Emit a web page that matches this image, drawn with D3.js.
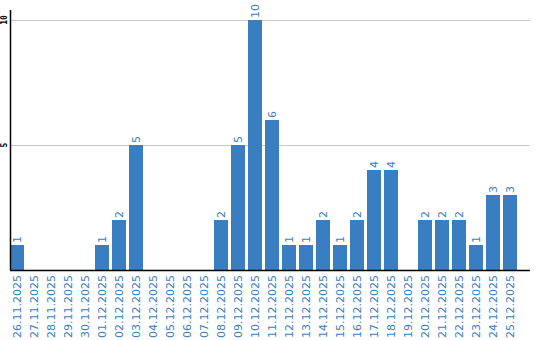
<!DOCTYPE html>
<html>
<head>
<meta charset="utf-8">
<script src="https://cdn.jsdelivr.net/npm/d3@7"></script>
<style>
  body { margin: 0; background: #fff; }
  svg { display: block; }
</style>
</head>
<body>
<script>
var dates = ["26.11.2025","27.11.2025","28.11.2025","29.11.2025","30.11.2025",
  "01.12.2025","02.12.2025","03.12.2025","04.12.2025","05.12.2025","06.12.2025",
  "07.12.2025","08.12.2025","09.12.2025","10.12.2025","11.12.2025","12.12.2025",
  "13.12.2025","14.12.2025","15.12.2025","16.12.2025","17.12.2025","18.12.2025",
  "19.12.2025","20.12.2025","21.12.2025","22.12.2025","23.12.2025","24.12.2025",
  "25.12.2025"];
var counts = [1,0,0,0,0,1,2,5,0,0,0,0,2,5,10,6,1,1,2,1,2,4,4,0,2,2,2,1,3,3];
var yTicks = [5, 10];

const width = 540, height = 340;
const padLeft = 10, padRight = 530, padTop = 10, base = 270;
const blue = "#3a7ec2";

var svg = d3.select("body").append("svg")
    .attr("width", width)
    .attr("height", height);

// step 17px, bar 14px
var x = d3.scaleBand()
    .domain(dates)
    .range([padLeft, padLeft + 507])
    .paddingInner(3 / 17)
    .paddingOuter(0);

var y = d3.scaleLinear()
    .domain([0, 10])
    .range([base, 20]);

// grid
svg.append("g")
    .selectAll("line")
    .data(yTicks)
    .enter()
    .append("line")
    .attr("x1", padLeft)
    .attr("x2", padRight)
    .attr("y1", d => Math.round(y(d)) + 0.5)
    .attr("y2", d => Math.round(y(d)) + 0.5)
    .attr("stroke", "#c8c8c8")
    .attr("stroke-width", 1);

// bars
svg.append("g")
    .selectAll("rect")
    .data(counts)
    .enter()
    .append("rect")
    .attr("x", (d, i) => Math.round(x(dates[i])))
    .attr("width", Math.round(x.bandwidth()))
    .attr("y", d => y(d))
    .attr("height", d => base - y(d))
    .attr("fill", blue)
    .style("display", d => d > 0 ? null : "none");

// value labels
var vals = svg.append("g");
counts.forEach(function(d, i) {
    if (!d) return;
    var cx = x(dates[i]) + x.bandwidth() / 2;
    vals.append("text")
        .attr("transform", "translate(" + (cx + 4) + "," + (y(d) - 2) + ") rotate(-90)")
        .attr("font-family", "DejaVu Sans, sans-serif")
        .attr("font-size", 11)
        .attr("fill", blue)
        .text(d);
});

// x labels
var xl = svg.append("g");
dates.forEach(function(d) {
    var cx = x(d) + x.bandwidth() / 2;
    xl.append("text")
        .attr("transform", "translate(" + (cx + 4) + "," + (base + 5) + ") rotate(-90)")
        .attr("text-anchor", "end")
        .attr("font-family", "DejaVu Sans, sans-serif")
        .attr("font-size", 11)
        .attr("fill", blue)
        .text(d);
});

// y tick labels
var yl = svg.append("g");
yTicks.forEach(function(t) {
    yl.append("text")
        .attr("transform", "translate(7," + y(t) + ") rotate(-90)")
        .attr("text-anchor", "middle")
        .attr("font-family", "DejaVu Sans Mono, monospace")
        .attr("font-weight", "bold")
        .attr("font-size", 8)
        .attr("fill", "#000")
        .text(t);
});

// axes lines
svg.append("line")
    .attr("x1", padLeft + 0.5).attr("x2", padLeft + 0.5)
    .attr("y1", padTop).attr("y2", base)
    .attr("stroke", "#000").attr("stroke-width", 1.5);
svg.append("line")
    .attr("x1", padLeft).attr("x2", padRight)
    .attr("y1", base + 0.5).attr("y2", base + 0.5)
    .attr("stroke", "#000").attr("stroke-width", 1.5);
</script>
</body>
</html>
